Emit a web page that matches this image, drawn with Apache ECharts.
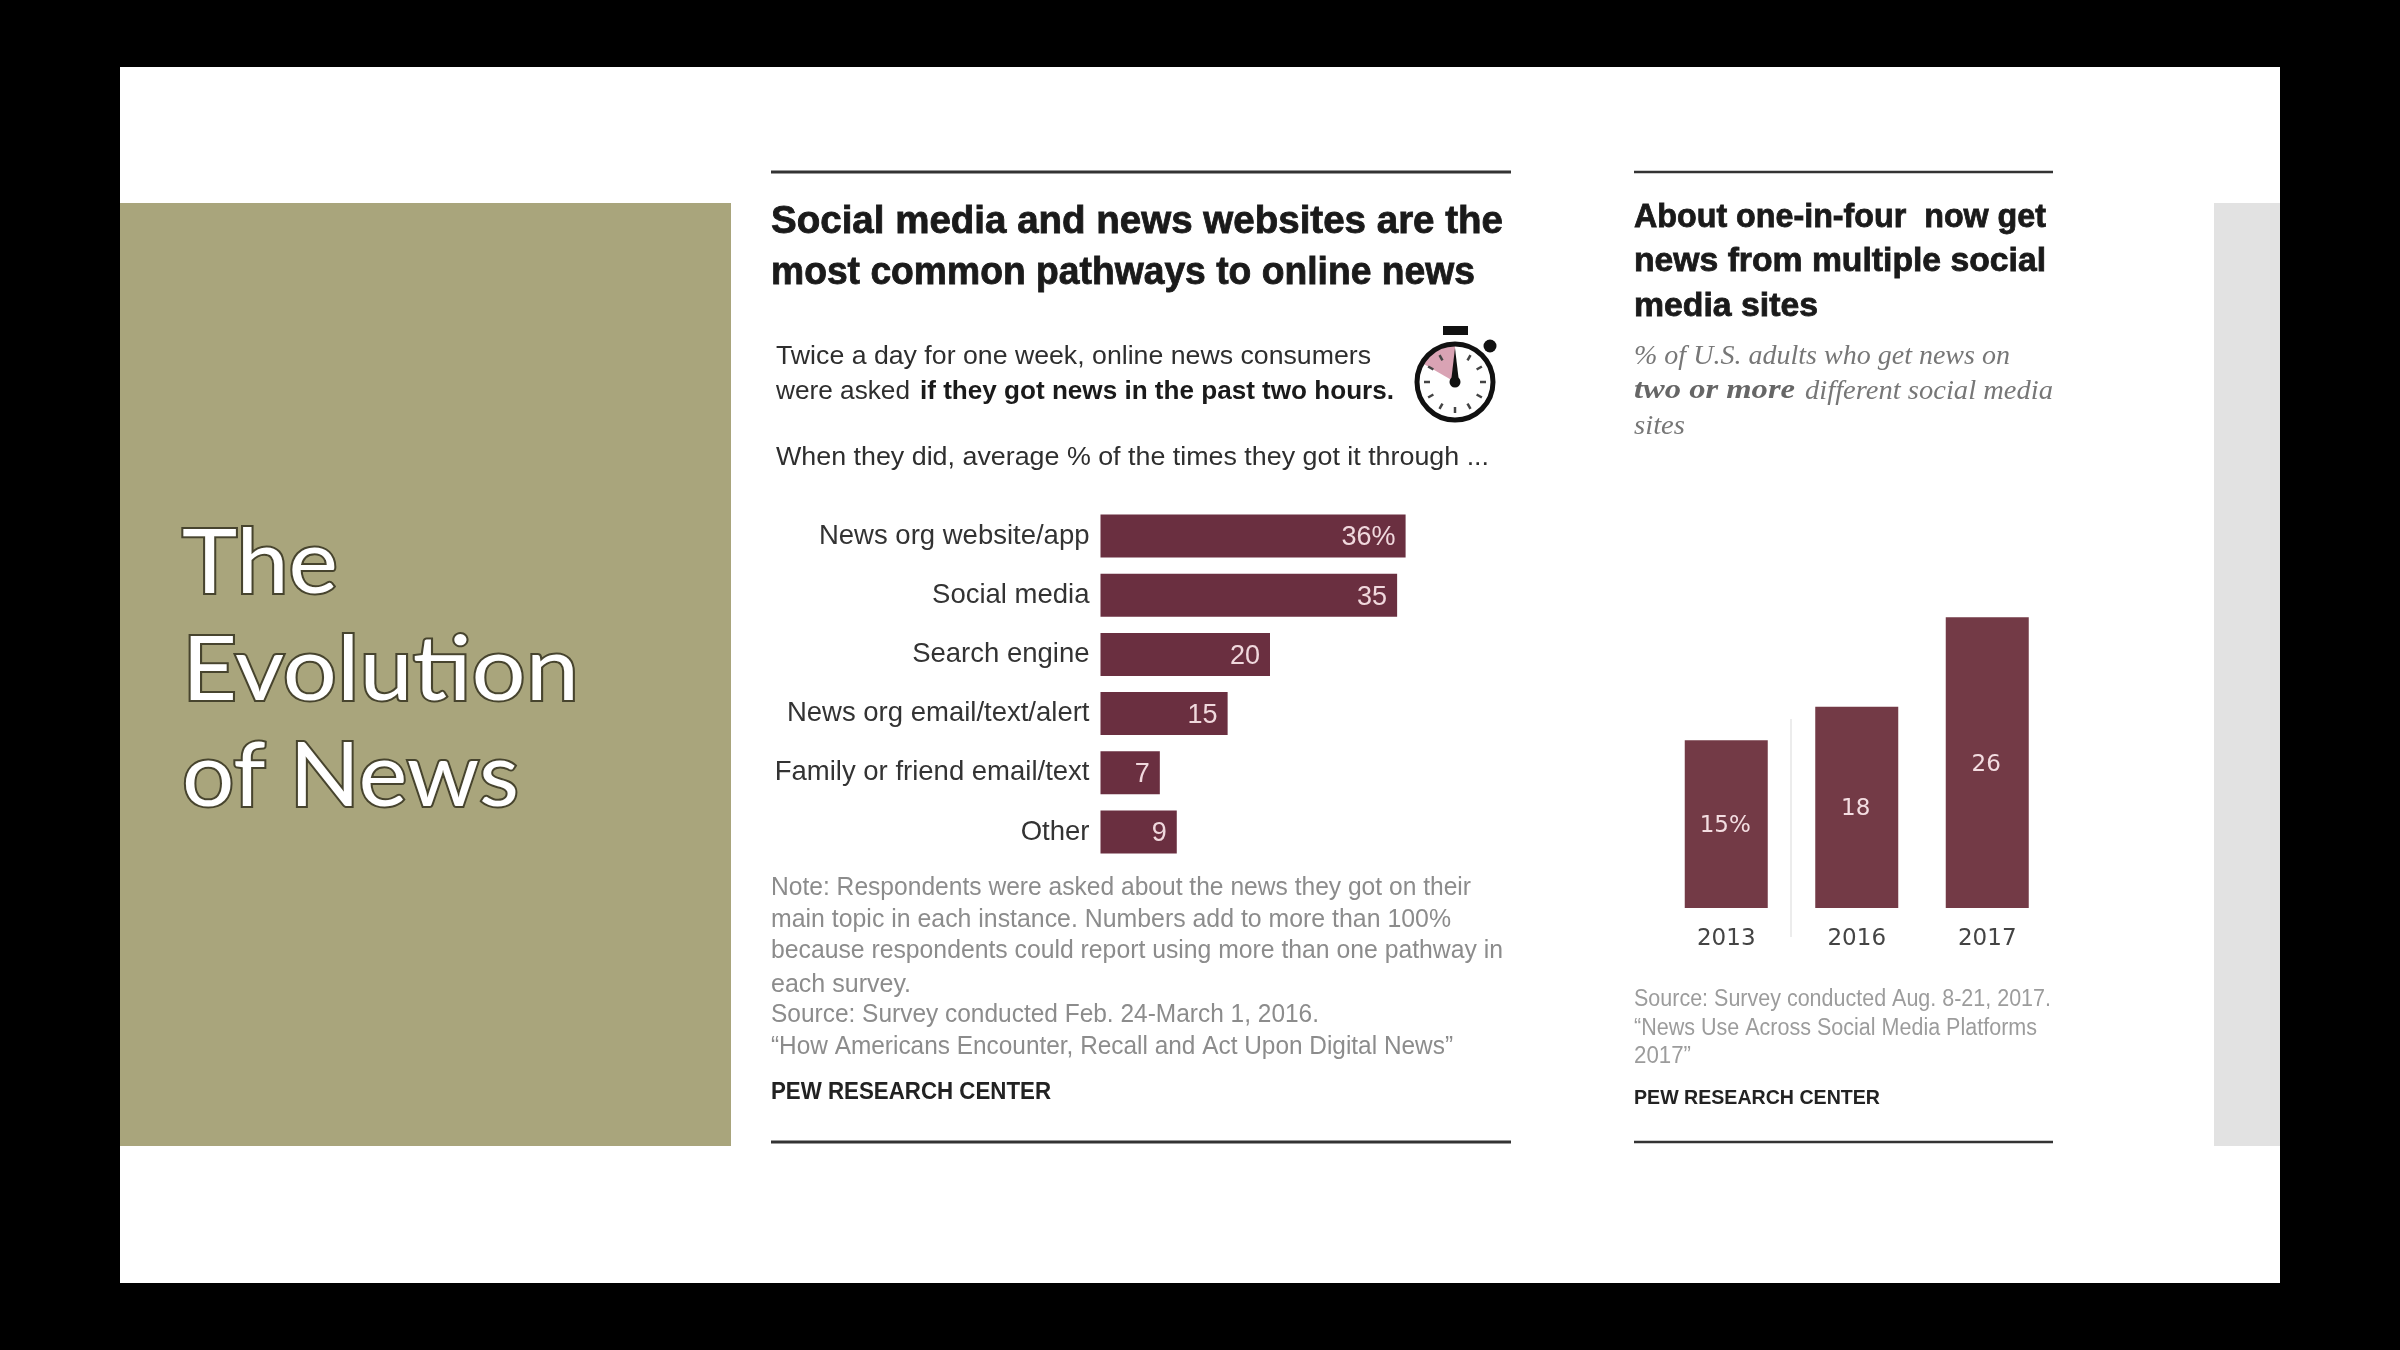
<!DOCTYPE html>
<html><head><meta charset="utf-8">
<style>html,body{margin:0;padding:0;background:#000}#c{width:2400px;height:1350px;filter:blur(0.6px)}</style>
<script src="https://cdn.jsdelivr.net/npm/echarts@6/dist/echarts.min.js"></script>
</head><body><div id="c"></div>
<script>
const pathways = ['News org website/app','Social media','Search engine','News org email/text/alert','Family or friend email/text','Other'];
const pathwayValues = [36,35,20,15,7,9];
const years = ['2013','2016','2017'];
const multiSiteValues = [15,18,26];
const slideTitle = ['The','Evolution','of News'];

const chart = echarts.init(document.getElementById('c'));
const meas = document.createElement('canvas').getContext('2d');
const SANS = '"Liberation Sans"', SERIF = '"Liberation Serif"', DV = '"DejaVu Sans"';
function T(str,x,y,right,o){
  o=o||{};
  const size=o.size||24, weight=o.weight||'normal', style=o.style||'normal', family=o.family||SANS;
  meas.font=`${style} ${weight} ${size}px ${family}`;
  const w=meas.measureText(str).width;
  const s={text:str,x:0,y:0,fill:o.fill||'#333',font:meas.font,verticalAlign:'middle',align:'left'};
  if(o.stroke){s.stroke=o.stroke;s.lineWidth=o.lw;s.strokeFirst=true;}
  return {type:'text',x,y:y+(o.dy===undefined?2:o.dy),scaleX:(right-x)/w,originX:0,silent:true,z:5,style:s};
}
const R=(x,y,w,h,fill,z)=>({type:'rect',silent:true,z:z||1,shape:{x,y,width:w,height:h},style:{fill}});
const L=(x1,y1,x2,y2,stroke,lineWidth)=>({type:'line',silent:true,z:2,shape:{x1,y1,x2,y2},style:{stroke,lineWidth}});

const g=[
  R(120,67,2160,1216,'#ffffff'),
  R(120,203,611,943,'#a9a57c',2),
  R(2214,203,66,943,'#e2e2e2',2),
  L(771,172,1511,172,'#333',3), L(771,1142,1511,1142,'#333',3),
  L(1634,172,2053,172,'#333',2.5), L(1634,1142,2053,1142,'#333',2.5),
  L(1791,719,1791,937,'#ececec',2),
];
[562,669,775].forEach((y,i)=>g.push(T(slideTitle[i],182,y,[338,579,519][i],{size:90,family:'Lato',fill:'#fff',stroke:'#47442e',lw:4,dy:1.5})));
const dark='#1a1a1a', body='#2e2e2e', note='#8c8c8c', note2='#9c9c9c';
const H={weight:'bold',fill:dark,stroke:dark,lw:0.8};
g.push(
 T('Social media and news websites are the',771,220,1503,{size:38,dy:3,...H}),
 T('most common pathways to online news',771,271,1475,{size:38,dy:3,...H}),
 T('Twice a day for one week, online news consumers',776,355,1371,{size:26,fill:body}),
 T('were asked',776,390,910,{size:26,fill:body}),
 T('if they got news in the past two hours.',920,390,1394,{size:26,weight:'bold',fill:dark}),
 T('When they did, average % of the times they got it through ...',776,456,1489,{size:26,fill:body}),
 T('Note: Respondents were asked about the news they got on their',771,886,1471,{size:25,fill:note}),
 T('main topic in each instance. Numbers add to more than 100%',771,918,1451,{size:25,fill:note}),
 T('because respondents could report using more than one pathway in',771,949,1503,{size:25,fill:note}),
 T('each survey.',771,983,911,{size:25,fill:note}),
 T('Source: Survey conducted Feb. 24-March 1, 2016.',771,1013,1319,{size:25,fill:note}),
 T('\u201cHow Americans Encounter, Recall and Act Upon Digital News\u201d',771,1045,1453,{size:25,fill:note}),
 T('PEW RESEARCH CENTER',771,1091,1051,{size:23,weight:'bold',fill:'#222'}),
 T('About one-in-four  now get',1634,216,2046,{size:33,dy:1.5,...H}),
 T('news from multiple social',1634,260,2046,{size:33,dy:1.5,...H}),
 T('media sites',1634,305,1818,{size:33,dy:1.5,...H}),
 T('% of U.S. adults who get news on',1634,355,2010,{size:27,dy:1.5,style:'italic',family:SERIF,fill:'#777'}),
 T('two or more',1634,390,1795,{size:27,dy:1.5,style:'italic',weight:'bold',family:SERIF,fill:'#666'}),
 T('different social media',1805,390,2053,{size:27,dy:1.5,style:'italic',family:SERIF,fill:'#777'}),
 T('sites',1634,425,1685,{size:27,dy:1.5,style:'italic',family:SERIF,fill:'#777'}),
 T('Source: Survey conducted Aug. 8-21, 2017.',1634,998,2051,{size:23,dy:1.5,fill:note2}),
 T('\u201cNews Use Across Social Media Platforms',1634,1027,2037,{size:23,dy:1.5,fill:note2}),
 T('2017\u201d',1634,1055,1691,{size:23,dy:1.5,fill:note2}),
 T('PEW RESEARCH CENTER',1634,1097,1880,{size:21,dy:1.5,weight:'bold',fill:'#222'})
);
// stopwatch
const cx=1455, cy=382, r=38;
g.push({type:'sector',silent:true,z:5,shape:{cx,cy,r:r-2,r0:0,startAngle:-Math.PI/2-1.05,endAngle:-Math.PI/2},style:{fill:'#d9a3b4'}});
g.push({type:'circle',silent:true,z:6,shape:{cx,cy,r},style:{fill:'none',stroke:'#111',lineWidth:5}});
g.push(R(1443,326,25,9,'#111',6));
g.push({type:'circle',silent:true,z:6,shape:{cx:1490,cy:346,r:6.5},style:{fill:'#111'}});
for(let i=1;i<12;i++){const a=i*Math.PI/6;
  g.push({type:'line',silent:true,z:6,shape:{x1:cx+Math.sin(a)*(r-13),y1:cy-Math.cos(a)*(r-13),x2:cx+Math.sin(a)*(r-7),y2:cy-Math.cos(a)*(r-7)},style:{stroke:'#444',lineWidth:2.5}});
}
g.push({type:'polygon',silent:true,z:7,shape:{points:[[cx-4,cy],[cx,cy-34],[cx+4,cy]]},style:{fill:'#111'}});
g.push({type:'circle',silent:true,z:7,shape:{cx,cy,r:5.5},style:{fill:'#111'}});

chart.setOption({
  animation:false,
  backgroundColor:'#000',
  graphic:{elements:g},
  grid:[
    {left:1100.5,top:506.4,width:339,height:355.2,containLabel:false},
    {left:1661,top:572.6,width:391.5,height:335.4,containLabel:false}
  ],
  xAxis:[
    {type:'value',gridIndex:0,min:0,max:40,show:false},
    {type:'category',gridIndex:1,z:10,data:years,axisLine:{show:false},axisTick:{show:false},
     axisLabel:{fontFamily:DV,fontSize:23,color:'#444',margin:20}}
  ],
  yAxis:[
    {type:'category',gridIndex:0,z:10,inverse:true,data:pathways,axisLine:{show:false},axisTick:{show:false},
     axisLabel:{fontFamily:SANS,fontSize:27.5,color:'#333',margin:11,padding:[3,0,0,0]}},
    {type:'value',gridIndex:1,min:0,max:30,show:false}
  ],
  series:[
    {type:'bar',xAxisIndex:0,yAxisIndex:0,data:pathwayValues,barWidth:43,z:3,
     itemStyle:{color:'#6a2f40'},
     label:{show:true,position:'insideRight',distance:10,offset:[0,2],fontFamily:SANS,fontSize:27,color:'#f0d8dd',
       formatter:p=>p.dataIndex===0?p.value+'%':p.value}},
    {type:'bar',xAxisIndex:1,yAxisIndex:1,data:multiSiteValues,barWidth:83,z:3,
     itemStyle:{color:'#733a46'},
     label:{show:true,position:'inside',offset:[-1,2],fontFamily:DV,fontSize:23,color:'#f3dde1',
       formatter:p=>p.dataIndex===0?p.value+'%':p.value}}
  ]
});
</script></body></html>
